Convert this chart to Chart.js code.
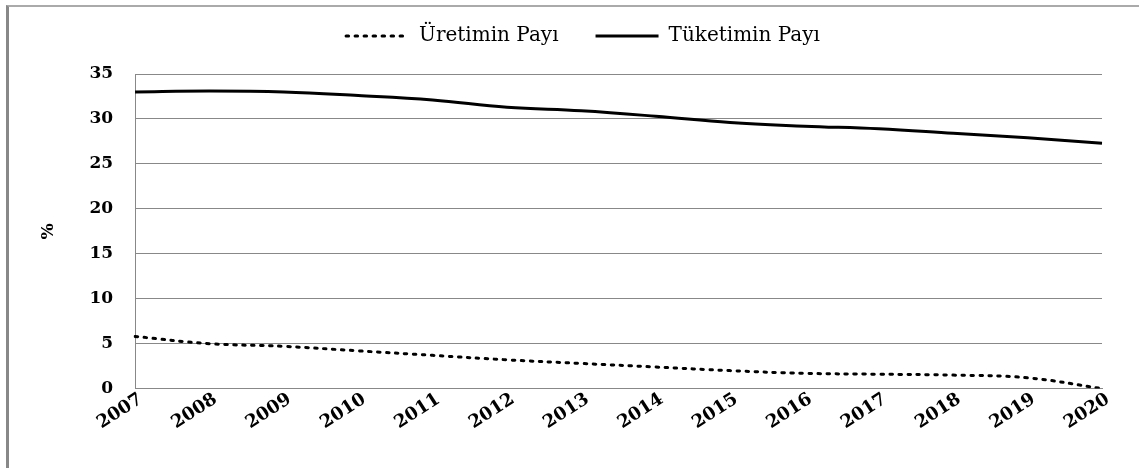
<!DOCTYPE html>
<html>
<head>
<meta charset="utf-8">
<script src="https://cdn.jsdelivr.net/npm/chart.js@4"></script>
<style>
  html, body { margin: 0; padding: 0; background: #fff; }
  #wrap { position: relative; width: 1139px; height: 468px; }
  #frame {
    position: absolute; left: 6px; top: 5px; right: 0; bottom: 0;
    border-left: 3px solid #888; border-top: 2px solid #aaa;
    pointer-events: none;
  }
</style>
</head>
<body>
<div id="wrap">
  <canvas id="chart" width="1139" height="468"></canvas>
  <div id="frame"></div>
</div>
<script>
const years = ["2007", "2008", "2009", "2010", "2011", "2012", "2013",
  "2014", "2015", "2016", "2017", "2018", "2019", "2020"];
const uretimPayi = [5.8, 5.0, 4.7, 4.2, 3.7, 3.2, 2.8, 2.4, 2.0, 1.7, 1.6, 1.5, 1.2, 0.0];
const tuketimPayi = [33.0, 33.1, 33.0, 32.6, 32.1, 31.3, 30.9, 30.3, 29.6, 29.2, 28.9, 28.4, 27.9, 27.3];
const yTicks = [0, 5, 10, 15, 20, 25, 30, 35];

const serif = "'DejaVu Serif', 'Liberation Serif', serif";

// extra space under the legend and a small nudge right, like the original
const legendGap = {
  id: "legendGap",
  beforeInit(chart) {
    const fit = chart.legend.fit;
    chart.legend.fit = function () {
      fit.call(this);
      this.height += 18;
    };
  },
  afterLayout(chart) {
    chart.legend.left += 16;
    chart.legend.right += 16;
  },
};

new Chart(document.getElementById("chart"), {
  type: "line",
  data: {
    labels: years,
    datasets: [
      {
        label: "Üretimin Payı",
        data: uretimPayi,
        borderColor: "#000",
        backgroundColor: "#000",
        borderWidth: 3,
        borderDash: [2.5, 6.5],
        borderCapStyle: "round",
        pointRadius: 0,
        tension: 0.4,
      },
      {
        label: "Tüketimin Payı",
        data: tuketimPayi,
        borderColor: "#000",
        backgroundColor: "#000",
        borderWidth: 3,
        pointRadius: 0,
        tension: 0.4,
      },
    ],
  },
  options: {
    responsive: false,
    animation: false,
    layout: { padding: { left: 32, right: 37, top: -11, bottom: 34 } },
    plugins: {
      legend: {
        position: "top",
        labels: {
          usePointStyle: true,
          pointStyle: "line",
          pointStyleWidth: 63,
          boxHeight: 3,
          padding: 37,
          color: "#000",
          font: { family: serif, size: 20 },
          generateLabels(chart) {
            const items = Chart.defaults.plugins.legend.labels.generateLabels(chart);
            items.forEach((item) => {
              const ds = chart.data.datasets[item.datasetIndex];
              item.lineDash = ds.borderDash || [];
              item.lineCap = ds.borderCapStyle || "butt";
              item.lineWidth = ds.borderWidth;
              item.strokeStyle = ds.borderColor;
            });
            return items;
          },
        },
      },
      tooltip: { enabled: false },
    },
    scales: {
      x: {
        offset: false,
        grid: { display: false, drawTicks: false },
        border: { display: true, color: "#888", width: 1 },
        ticks: {
          color: "#000",
          minRotation: 33,
          maxRotation: 33,
          padding: 0,
          labelOffset: 6,
          font: { family: serif, size: 18, weight: "bold" },
        },
      },
      y: {
        min: 0,
        max: 35,
        afterBuildTicks: (axis) => {
          axis.ticks = yTicks.map((v) => ({ value: v }));
        },
        grid: { color: "#888", lineWidth: 1, drawTicks: false },
        border: { display: true, color: "#888", width: 1 },
        ticks: {
          color: "#000",
          padding: 22,
          font: { family: serif, size: 17, weight: "bold" },
        },
        title: {
          display: true,
          text: "%",
          color: "#000",
          padding: { top: 6, bottom: 9 },
          font: { family: serif, size: 17, weight: "bold" },
        },
      },
    },
  },
  plugins: [legendGap],
});
</script>
</body>
</html>
